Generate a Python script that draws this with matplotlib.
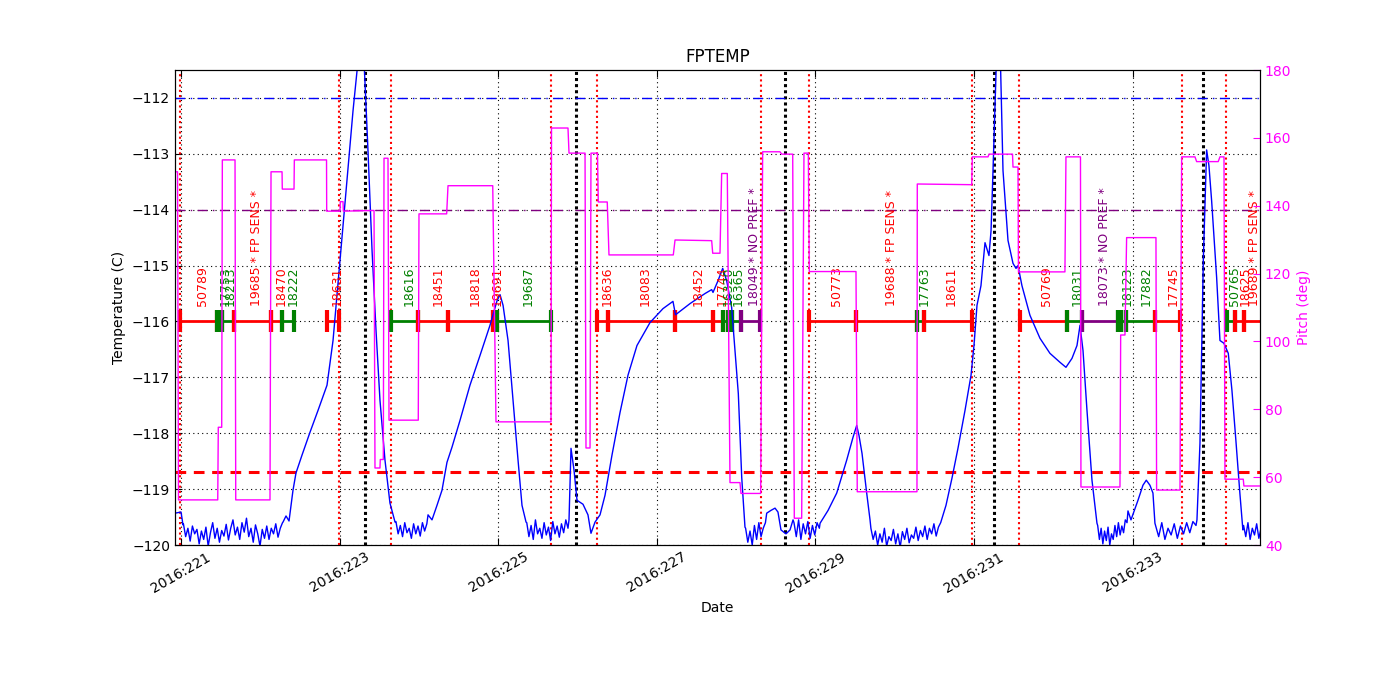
import numpy as np
import matplotlib
matplotlib.use("Agg")
import matplotlib.pyplot as plt

# FPTEMP trace (day of year 2016, deg C) -- smooth parts
temp_days = [220.924, 221.000, 221.025,
             222.286, 222.324, 222.362, 222.412, 222.450, 222.526, 222.627, 222.728,
             222.841, 222.917, 223.005, 223.093, 223.169, 223.232, 223.270, 223.308,
             223.358, 223.409, 223.459, 223.509, 223.572, 223.635, 223.699,
             224.115, 224.165, 224.228, 224.291, 224.354, 224.417, 224.518, 224.644,
             224.770, 224.896, 224.985, 225.023, 225.061, 225.124, 225.187, 225.250,
             225.300, 225.351,
             225.893, 225.918, 225.956, 225.994, 226.069, 226.132, 226.170, 226.221,
             226.284, 226.347, 226.435, 226.536, 226.637, 226.750, 226.914, 227.078,
             227.204, 227.236, 227.419, 227.608, 227.692, 227.709, 227.772, 227.831,
             227.881, 227.944, 227.986, 228.028, 228.071, 228.112,
             228.386, 228.440, 228.491, 228.528, 228.566, 228.629, 228.680, 228.718,
             229.059, 229.160, 229.269, 229.395, 229.475, 229.521, 229.550, 229.588,
             229.647, 229.689,
             230.597, 230.647, 230.723, 230.798, 230.887, 230.963, 231.000, 231.038,
             231.088, 231.139, 231.189, 231.215, 231.240, 231.271, 231.290, 231.328,
             231.366, 231.429, 231.492, 231.530, 231.555, 231.605, 231.706, 231.832,
             231.958, 232.084, 232.160, 232.236, 232.299, 232.337, 232.375, 232.425,
             232.488, 232.551,
             232.942, 232.980, 233.068, 233.131, 233.173, 233.219, 233.257, 233.282,
             233.812, 233.850, 233.892, 233.934, 233.963, 233.997, 234.060, 234.102,
             234.152, 234.207, 234.253, 234.303, 234.353, 234.391]
temp_vals = [-119.43, -119.41, -119.64,
             -119.59, -119.48, -119.57, -119.02, -118.71, -118.39, -117.98, -117.59,
             -117.14, -116.34, -114.91, -113.48, -112.23, -111.34, -111.00, -111.34,
             -112.95, -114.73, -116.16, -117.41, -118.48, -119.25, -119.59,
             -119.46, -119.55, -119.29, -119.02, -118.52, -118.25, -117.77, -117.14,
             -116.61, -116.07, -115.63, -115.52, -115.71, -116.34, -117.41, -118.48,
             -119.29, -119.59,
             -119.55, -118.27, -118.66, -119.20, -119.27, -119.46, -119.79, -119.59,
             -119.46, -119.11, -118.39, -117.63, -116.96, -116.43, -116.02, -115.77,
             -115.64, -115.88, -115.68, -115.50, -115.43, -115.48, -115.27, -115.05,
             -115.27, -115.75, -116.52, -117.29, -118.79, -119.68,
             -119.43, -119.38, -119.34, -119.41, -119.73, -119.80, -119.73, -119.55,
             -119.61, -119.38, -119.07, -118.48, -118.07, -117.86, -118.04, -118.36,
             -119.07, -119.55,
             -119.52, -119.29, -118.80, -118.27, -117.59, -116.96, -116.43, -115.71,
             -115.36, -114.59, -114.82, -114.38, -113.30, -111.88, -111.00, -111.00,
             -113.30, -114.55, -114.96, -115.05, -115.00, -115.36, -115.89, -116.30,
             -116.57, -116.73, -116.82, -116.66, -116.43, -116.07, -116.52, -117.59,
             -118.84, -119.61,
             -119.39, -119.55, -119.20, -118.93, -118.84, -118.93, -119.07, -119.61,
             -119.55, -118.18, -114.91, -112.93, -113.21, -113.84, -115.21, -116.34,
             -116.39, -116.57, -117.23, -118.13, -119.07, -119.73]

# noisy stretches at the bottom of each cold period
noise_start = [221.03, 223.71, 225.36, 228.12, 228.73, 229.70, 232.56, 233.29, 234.40]
noise_stop = [222.28, 224.10, 225.88, 228.37, 229.05, 230.58, 232.93, 233.80, 234.62]
noise_vals = [
    [-119.62, -119.85, -119.70, -119.93, -119.66, -119.80, -119.72, -119.98, -119.75,
     -119.90, -119.68, -120.02, -119.78, -119.60, -119.88, -119.70, -119.95, -119.74,
     -119.84, -119.63, -119.91, -119.70, -119.55, -119.82, -119.68, -119.90, -119.60,
     -119.77, -119.52, -119.85, -119.70, -119.95, -119.64, -119.80, -120.02, -119.72,
     -119.88, -119.66, -119.90, -119.70, -119.80, -119.62, -119.86, -119.70, -119.60],
    [-119.58, -119.80, -119.65, -119.85, -119.60, -119.78, -119.70, -119.88, -119.62,
     -119.80, -119.66, -119.84, -119.60, -119.75, -119.62],
    [-119.60, -119.85, -119.65, -119.90, -119.55, -119.80, -119.70, -119.88, -119.60,
     -119.82, -119.68, -119.92, -119.58, -119.80, -119.66, -119.86, -119.62, -119.78,
     -119.55, -119.70],
    [-119.70, -119.95, -119.75, -120.00, -119.65, -119.90, -119.60, -119.85, -119.70,
     -119.60],
    [-119.60, -119.85, -119.55, -119.90, -119.62, -119.80, -119.58, -119.88, -119.65,
     -119.82, -119.60, -119.70],
    [-119.70, -119.90, -119.75, -120.00, -119.80, -119.95, -119.70, -120.02, -119.85,
     -119.92, -119.72, -119.98, -119.80, -120.04, -119.76, -119.90, -119.70, -119.96,
     -119.82, -119.88, -119.68, -119.92, -119.74, -119.85, -119.66, -119.90, -119.70,
     -119.80, -119.62, -119.84, -119.68, -119.60],
    [-119.65, -119.90, -119.70, -119.98, -119.75, -119.92, -119.68, -120.00, -119.80,
     -119.90, -119.65, -119.85, -119.60, -119.82, -119.66, -119.78, -119.55, -119.60],
    [-119.65, -119.85, -119.60, -119.90, -119.70, -119.82, -119.62, -119.88, -119.66,
     -119.80, -119.60, -119.78, -119.58, -119.65],
    [-119.65, -119.85, -119.60, -119.90, -119.70, -119.82, -119.62, -119.88, -119.70],
]

# pitch (deg), step trace
pitch_days = [220.924, 220.956, 220.968, 221.463, 221.470, 221.513, 221.521, 221.681,
              221.690, 222.122, 222.135, 222.274, 222.277, 222.425, 222.429, 222.835,
              222.837, 223.005, 223.009, 223.043, 223.047, 223.434, 223.446, 223.509,
              223.513, 223.551, 223.560, 223.610, 223.623, 223.992, 224.001, 224.350,
              224.367, 224.931, 224.972, 225.666, 225.672, 225.880, 225.893, 226.095,
              226.107, 226.158, 226.170, 226.252, 226.262, 226.375, 226.397, 227.208,
              227.230, 227.692, 227.705, 227.797, 227.818, 227.889, 227.923, 228.049,
              228.062, 228.310, 228.335, 228.553, 228.575, 228.714, 228.734, 228.827,
              228.856, 228.911, 228.923, 229.512, 229.528, 230.281, 230.285, 230.971,
              230.979, 231.177, 231.189, 231.486, 231.492, 231.555, 231.561, 232.147,
              232.160, 232.343, 232.349, 232.841, 232.850, 232.904, 232.925, 233.295,
              233.303, 233.598, 233.619, 233.787, 233.808, 234.080, 234.102, 234.153,
              234.165, 234.396, 234.404, 234.669]
pitch_vals = [150.0, 150.0, 53.3, 53.3, 74.7, 74.7, 153.5, 153.5,
              53.3, 53.3, 150.0, 150.0, 144.9, 144.9, 153.5, 153.5,
              138.4, 138.4, 141.2, 141.2, 138.4, 138.6, 62.7, 62.7,
              65.2, 65.2, 154.0, 154.0, 76.8, 76.8, 137.6, 137.6,
              145.9, 145.9, 76.3, 76.3, 162.9, 162.9, 155.5, 155.5,
              68.6, 68.6, 155.5, 155.5, 141.1, 141.1, 125.5, 125.5,
              129.9, 129.7, 126.0, 126.0, 149.5, 149.5, 58.4, 58.4,
              55.2, 55.2, 155.9, 155.9, 155.2, 155.2, 47.9, 47.9,
              155.5, 155.5, 120.6, 120.6, 55.7, 55.7, 146.4, 146.2,
              154.4, 154.4, 155.2, 155.2, 151.4, 151.4, 120.5, 120.5,
              154.4, 154.4, 57.1, 57.1, 101.9, 101.9, 130.6, 130.6,
              56.2, 56.2, 154.4, 154.4, 153.0, 153.0, 154.4, 154.4,
              59.4, 59.4, 57.4, 57.4]

# observations along the -116 line
obs_start = [220.987, 221.450, 221.483, 221.517, 221.672, 222.135, 222.277, 222.845,
             223.648, 223.992, 224.361, 224.938, 224.989, 226.250, 226.381, 227.230,
             227.709, 227.839, 227.902, 227.944, 228.056, 228.923, 229.518, 230.285,
             230.370, 231.580, 232.169, 232.358, 232.822, 232.854, 232.923, 233.289,
             234.190, 234.291, 234.405]
obs_stop = [221.450, 221.483, 221.517, 221.672, 222.135, 222.277, 222.425, 222.996,
            223.992, 224.361, 224.938, 224.989, 225.662, 226.381, 227.230, 227.709,
            227.839, 227.902, 227.944, 228.056, 228.301, 229.518, 230.285, 230.370,
            230.969, 232.169, 232.358, 232.822, 232.854, 232.923, 233.289, 233.598,
            234.291, 234.405, 234.700]
obs_kind = ["red", "green", "green", "green", "red", "red", "green", "red",
            "green", "red", "red", "red", "green", "red", "red", "red",
            "red", "green", "green", "green", "purple", "red", "red", "green",
            "red", "red", "green", "purple", "green", "green", "green", "red",
            "green", "red", "red"]
obs_label = ["50789", "17753", "", "18213", "19685 * FP SENS *", "18470", "18222", "18631",
             "18616", "18451", "18818", "19691", "19687", "18636", "18083", "18452",
             "17744", "16320", "", "16365", "18049 * NO PREF *", "50773",
             "19688 * FP SENS *", "17763",
             "18611", "50769", "18031", "18073 * NO PREF *", "", "18123", "17882", "17745",
             "50765", "18625", "19689 * FP SENS *"]
label_day = [221.265, 221.555, 0, 221.618, 221.958, 222.261, 222.412, 222.967,
             223.875, 224.241, 224.707, 224.985, 225.376, 226.372, 226.851, 227.520,
             227.823, 227.898, 0, 228.024, 228.238, 229.272, 229.966, 230.369,
             230.709, 231.920, 232.298, 232.651, 0, 232.929, 233.169, 233.509,
             234.291, 234.417, 234.543]

radzone_lines = [220.987, 222.996, 223.648, 225.671, 226.250, 228.314, 228.923,
                 230.975, 231.571, 233.619, 234.184]
perigee_lines = [223.320, 225.977, 228.617, 231.252, 233.888]
caution_limit = -112.0
planning_limit = -114.0
acis_limit = -118.7
xticks = [221, 223, 225, 227, 229, 231, 233]


def main():
    # merge smooth parts and noisy stretches of the temperature trace
    days = list(temp_days)
    vals = list(temp_vals)
    for t0, t1, v in zip(noise_start, noise_stop, noise_vals):
        days += list(np.linspace(t0, t1, len(v)))
        vals += v
    order = np.argsort(days)
    days = np.array(days)[order]
    vals = np.array(vals)[order]

    fig = plt.figure(figsize=(14, 7), dpi=100)
    ax = fig.add_axes([0.125, 0.2214, 0.775, 0.6786])

    ax.grid(True, color="k", linestyle=(0, (1, 3)), linewidth=0.8)

    for t in radzone_lines:
        ax.axvline(t, color="red", linestyle=(0, (1, 1.5)), lw=1.5)
    for t in perigee_lines:
        ax.axvline(t, color="black", linestyle=(0, (1, 1)), lw=2.2)

    ax.axhline(caution_limit, color="blue", linestyle=(0, (7, 4, 1, 4)), lw=1)
    ax.axhline(planning_limit, color="purple", linestyle=(0, (7, 4, 1, 4)), lw=1)
    ax.axhline(acis_limit, color="red", linestyle=(0, (3.5, 2.5)), lw=2.2)

    for t0, t1, c, lab, tl in zip(obs_start, obs_stop, obs_kind, obs_label, label_day):
        ax.plot([t0, t1], [-116, -116], color=c, lw=2)
        ax.plot([t0, t1], [-116, -116], ls="none", marker="|", ms=16, mew=3, color=c)
        if lab:
            ax.text(tl, -115.73, lab, rotation=90, ha="center", va="bottom",
                    color=c, fontsize=9)

    ax.plot(days, vals, color="blue", lw=1)

    ax.set_xlim(220.924, 234.607)
    ax.set_ylim(-120, -111.5)
    ax.set_yticks(range(-120, -111))
    ax.set_xticks(xticks)
    ax.set_xticklabels([f"2016:{d}" for d in xticks], rotation=30)
    ax.tick_params(direction="in", top=True, length=5)
    ax.set_xlabel("Date")
    ax.set_ylabel("Temperature (C)")
    ax.set_title("FPTEMP", fontsize=12)

    ax2 = ax.twinx()
    ax2.plot(pitch_days, pitch_vals, color="magenta", lw=1)
    ax2.set_ylim(40, 180)
    ax2.set_yticks(range(40, 181, 20))
    ax2.tick_params(direction="in", length=5, labelcolor="magenta", color="magenta")
    ax2.set_ylabel("Pitch (deg)", color="magenta")
    ax2.set_xlim(220.924, 234.607)

    fig.savefig("out.png", dpi=100)


if __name__ == "__main__":
    main()
